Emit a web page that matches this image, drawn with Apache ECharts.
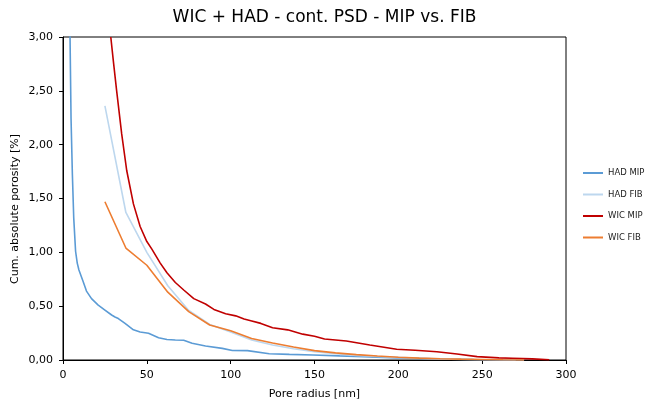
<!DOCTYPE html>
<html><head><meta charset="utf-8">
<script src="https://cdn.jsdelivr.net/npm/echarts@6/dist/echarts.min.js"></script>
<style>html,body{margin:0;padding:0;background:#fff}#c{width:649px;height:401px}</style>
</head><body><div id="c"></div>
<script>
const xTicks = [0, 50, 100, 150, 200, 250, 300];
const yTicks = [0, 0.5, 1, 1.5, 2, 2.5, 3];
const seriesNames = ['HAD MIP', 'HAD FIB', 'WIC MIP', 'WIC FIB'];
const hadMip = [[3.6,3.8],[4.2,3.0],[4.8,2.24],[5.6,1.72],[6.4,1.32],[7.5,1.01],[8.5,0.9],[9.5,0.836],[12,0.73],[14,0.64],[17,0.57],[19,0.54],[21,0.51],[25,0.464],[29,0.418],[31,0.40],[33,0.385],[37,0.34],[42,0.28],[46,0.26],[51,0.248],[57,0.207],[62,0.19],[67,0.186],[72,0.183],[77,0.155],[85,0.13],[95,0.108],[101,0.088],[110,0.087],[123,0.058],[135,0.052],[149,0.047],[165,0.038],[179,0.031],[199,0.02],[220,0.012],[245,0.005],[270,0.001]];
const hadFib = [[25,2.36],[37.5,1.37],[50,1.0],[62.5,0.69],[75,0.46],[87.5,0.33],[100,0.26],[112.5,0.185],[125,0.14],[137.5,0.105],[150,0.077],[162.5,0.058],[175,0.042],[187.5,0.032],[200,0.024],[212.5,0.016],[225,0.01],[237.5,0.006],[250,0.003],[262.5,0.001],[275,0.0]];
const wicMip = [[28.5,3.0],[30,2.78],[32,2.5],[35,2.1],[38,1.76],[42,1.45],[46,1.24],[50,1.1],[53,1.03],[58,0.9],[62,0.81],[67,0.72],[72,0.65],[78,0.57],[85,0.52],[90,0.47],[97,0.43],[103,0.41],[108,0.38],[112,0.365],[118,0.34],[125,0.3],[134,0.28],[143,0.24],[150,0.22],[156,0.195],[169,0.176],[183,0.14],[199,0.1],[210,0.09],[223,0.077],[235,0.055],[247,0.031],[260,0.02],[268,0.016],[280,0.01],[290,0.002]];
const wicFib = [[25,1.47],[37.5,1.04],[50,0.88],[62.5,0.63],[75,0.45],[87.5,0.325],[100,0.272],[112.5,0.2],[125,0.158],[137.5,0.12],[150,0.087],[162.5,0.066],[175,0.05],[187.5,0.037],[200,0.025],[212.5,0.017],[225,0.012],[237.5,0.008],[250,0.005],[262.5,0.002],[275,0.0]];
const colors = ['#5B9BD5', '#BDD7EE', '#C00000', '#ED7D31'];
const datas = [hadMip, hadFib, wicMip, wicFib];
const font = 'DejaVu Sans';
const chart = echarts.init(document.getElementById('c'));
chart.setOption({
  animation: false,
  color: colors,
  textStyle: {fontFamily: font},
  title: {text: 'WIC + HAD - cont. PSD - MIP vs. FIB', left: 'center', top: 4,
    textStyle: {fontFamily: font, fontSize: 17, fontWeight: 'normal', color: '#000'}},
  legend: {orient: 'vertical', left: 578, top: 163, itemWidth: 20, itemHeight: 2, itemGap: 11.5,
    icon: 'rect', textStyle: {fontFamily: font, fontSize: 8.5, lineHeight: 10, color: '#222'}, data: seriesNames},
  graphic: [{type: 'text', x: 15, y: 209, rotation: Math.PI / 2,
    style: {text: 'Cum. absolute porosity [%]', font: '11px "DejaVu Sans"', fill: '#000', align: 'center', verticalAlign: 'middle'}}],
  grid: {left: 63, right: 83, top: 37, bottom: 41, show: true, borderColor: '#000', borderWidth: 1,
    containLabel: false, outerBoundsMode: 'none'},
  xAxis: {type: 'value', min: xTicks[0], max: xTicks[xTicks.length-1], interval: 50,
    name: 'Pore radius [nm]', nameLocation: 'middle', nameGap: 29,
    nameTextStyle: {fontFamily: font, fontSize: 11, color: '#000'},
    axisLine: {lineStyle: {color: '#000', width: 1}}, axisTick: {show: true, inside: false, length: 4, lineStyle: {color: '#000'}},
    axisLabel: {fontFamily: font, fontSize: 11, color: '#000', margin: 10}, splitLine: {show: false}},
  yAxis: {type: 'value', min: yTicks[0], max: yTicks[yTicks.length-1], interval: 0.5,
    axisLine: {show: true, lineStyle: {color: '#000', width: 1}}, axisTick: {show: true, inside: false, length: 4, lineStyle: {color: '#000'}},
    axisLabel: {fontFamily: font, fontSize: 11, color: '#000', margin: 10, formatter: v => v.toFixed(2).replace('.', ',')},
    splitLine: {show: false}},
  series: seriesNames.map((n, i) => ({name: n, type: 'line', data: datas[i], showSymbol: false, symbol: 'none',
    clip: true, lineStyle: {width: 1.6, color: colors[i]}, itemStyle: {color: colors[i]}}))
});
</script></body></html>
